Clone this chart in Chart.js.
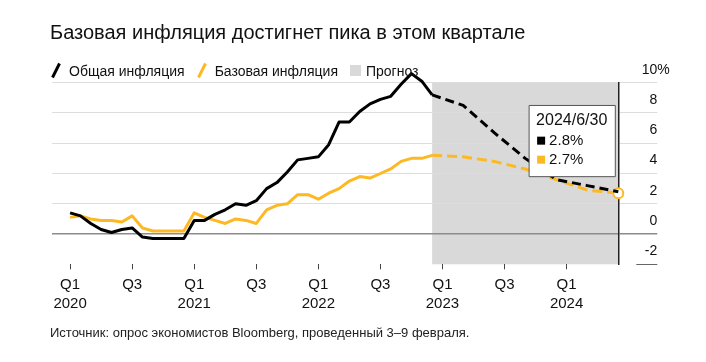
<!DOCTYPE html>
<html>
<head>
<meta charset="utf-8">
<script src="https://cdn.jsdelivr.net/npm/chart.js@4.4.1/dist/chart.umd.min.js"></script>
<style>
  body { margin: 0; background: #fff; font-family: "Liberation Sans", Arial, sans-serif; }
  #wrap { position: relative; width: 706px; height: 362px; overflow: hidden; }
  #chart { position: absolute; left: 0; top: 0; }
  .title { position: absolute; left: 50px; top: 21px; font-size: 20px; color: #111; white-space: nowrap; }
  .legend { position: absolute; left: 51px; top: 62px; font-size: 14px; color: #111; white-space: nowrap; display: flex; align-items: center; }
  .legend span.item { display: inline-flex; align-items: center; margin-right: 12px; }
  .legend svg { margin-right: 8px; }
  .legend .sq { width: 11px; height: 11px; background: #d9d9d9; display: inline-block; margin-right: 5px; }
  .source { position: absolute; left: 50px; top: 325px; font-size: 13px; color: #222; white-space: nowrap; }
</style>
</head>
<body>
<div id="wrap">
  <canvas id="chart" width="706" height="362"></canvas>
  <div class="title">Базовая инфляция достигнет пика в этом квартале</div>
  <div class="legend">
    <span class="item"><svg width="10" height="17"><line x1="1.5" y1="15.5" x2="8.5" y2="1.5" stroke="#000" stroke-width="3"/></svg>Общая инфляция</span>
    <span class="item"><svg width="10" height="17"><line x1="1.5" y1="15.5" x2="8.5" y2="1.5" stroke="#fdb924" stroke-width="3"/></svg>Базовая инфляция</span>
    <span class="item"><span class="sq"></span>Прогноз</span>
  </div>
  <div class="source">Источник: опрос экономистов Bloomberg, проведенный 3–9 февраля.</div>
</div>
<script>
// месяцы считаются от января 2020 (0 = 2020/1)
const actualMonths = [];
for (let i = 0; i < 36; i++) actualMonths.push(i);
const headlineActual = [1.4, 1.2, 0.7, 0.3, 0.1, 0.3, 0.4, -0.2, -0.3, -0.3, -0.3, -0.3,
                        0.9, 0.9, 1.3, 1.6, 2.0, 1.9, 2.2, 3.0, 3.4, 4.1, 4.9, 5.0,
                        5.1, 5.9, 7.4, 7.4, 8.1, 8.6, 8.9, 9.1, 9.9, 10.6, 10.1, 9.2];
const coreActual = [1.1, 1.2, 1.0, 0.9, 0.9, 0.8, 1.2, 0.4, 0.2, 0.2, 0.2, 0.2,
                    1.4, 1.1, 0.9, 0.7, 1.0, 0.9, 0.7, 1.6, 1.9, 2.0, 2.6, 2.6,
                    2.3, 2.7, 3.0, 3.5, 3.8, 3.7, 4.0, 4.3, 4.8, 5.0, 5.0, 5.2];

// квартальный прогноз
const forecastMonths = [38, 41, 44, 47, 50, 53];
const forecastDates = ['2023/3/31', '2023/6/30', '2023/9/30', '2023/12/31', '2024/3/31', '2024/6/30'];
const headlineForecast = [8.5, 6.7, 5.0, 3.6, 3.2, 2.8];
const coreForecast = [5.1, 4.8, 4.3, 3.6, 2.9, 2.7];

const forecastStart = 35;
const tickMonths = [0, 6, 12, 18, 24, 30, 36, 42, 48];
const tickLabels = [['Q1', '2020'], 'Q3', ['Q1', '2021'], 'Q3', ['Q1', '2022'], 'Q3', ['Q1', '2023'], 'Q3', ['Q1', '2024']];
const yTicks = [-2, 0, 2, 4, 6, 8, 10];

const BLACK = '#000000';
const YELLOW = '#fdb924';
const GRID = '#dddddd';

function toPoints(months, values) {
  return months.map((m, i) => ({ x: m, y: values[i] }));
}
const headlineData = toPoints(actualMonths, headlineActual).concat(toPoints(forecastMonths, headlineForecast));
const coreData = toPoints(actualMonths, coreActual).concat(toPoints(forecastMonths, coreForecast));
const last = headlineData.length - 1;

const dashAfter = (dash) => ({
  borderDash: ctx => ctx.p0DataIndex >= forecastStart ? dash : undefined
});

// серая зона прогноза + подпись "%" и короткая черта у -2
const forecastBox = {
  id: 'forecastBox',
  beforeDraw(chart) {
    const { ctx, chartArea, scales } = chart;
    const x0 = scales.x.getPixelForValue(forecastStart);
    ctx.save();
    ctx.fillStyle = '#d9d9d9';
    ctx.fillRect(x0, chartArea.top, chartArea.right - x0, chartArea.bottom - chartArea.top);
    ctx.restore();
  },
  afterDraw(chart) {
    const { ctx, chartArea } = chart;
    const y = chart.scales.y;
    const o = y.options;
    ctx.save();
    ctx.font = '14px "Liberation Sans", Arial, sans-serif';
    ctx.fillStyle = '#111';
    ctx.textBaseline = 'middle';
    ctx.fillText('%', y.right, y.getPixelForValue(10) + o.ticks.labelOffset);
    const ym = Math.round(y.getPixelForValue(-2)) + 0.5;
    ctx.strokeStyle = '#666';
    ctx.lineWidth = 1;
    ctx.beginPath();
    ctx.moveTo(chartArea.right + 18, ym);
    ctx.lineTo(chartArea.right + o.grid.tickLength, ym);
    ctx.stroke();
    ctx.restore();
  }
};

Chart.Tooltip.positioners.lastPoint = function (items) {
  if (!items.length) return false;
  const ys = items.map(it => it.element.y);
  return { x: items[0].element.x - 3, y: Math.min(...ys) - 15 };
};

const chart = new Chart(document.getElementById('chart'), {
  type: 'line',
  data: {
    datasets: [
      {
        label: 'Общая инфляция',
        data: headlineData,
        borderColor: BLACK,
        backgroundColor: BLACK,
        borderWidth: 3,
        pointRadius: 0,
        pointHoverRadius: 0,
        segment: dashAfter([9, 5]),
        clip: false
      },
      {
        label: 'Базовая инфляция',
        data: coreData,
        borderColor: YELLOW,
        backgroundColor: YELLOW,
        borderWidth: 3,
        pointRadius: ctx => ctx.dataIndex === last ? 5 : 0,
        pointHoverRadius: ctx => ctx.dataIndex === last ? 5 : 0,
        pointBackgroundColor: '#ffffff',
        pointBorderColor: YELLOW,
        pointBorderWidth: 2,
        pointHoverBorderWidth: 2,
        segment: dashAfter([10, 5]),
        clip: false
      }
    ]
  },
  options: {
    responsive: false,
    animation: false,
    events: [],
    devicePixelRatio: 1,
    layout: { padding: { left: 52, top: 82.7, right: 48.7, bottom: 0 } },
    elements: { line: { borderJoinStyle: 'round', tension: 0 } },
    scales: {
      x: {
        type: 'linear',
        min: -1.75,
        max: 53,
        afterFit: s => { s.height = 97.7; },
        afterBuildTicks: s => { s.ticks = tickMonths.map(v => ({ value: v })); },
        grid: { drawOnChartArea: false, drawTicks: true, tickLength: 5, tickColor: '#444', tickWidth: 1 },
        border: { display: false },
        ticks: {
          autoSkip: false,
          maxRotation: 0,
          padding: 6.2,
          color: '#111',
          font: { family: '"Liberation Sans", Arial, sans-serif', size: 15, lineHeight: '19px' },
          callback: v => tickLabels[tickMonths.indexOf(v)]
        }
      },
      y: {
        position: 'right',
        min: -2,
        max: 10,
        afterFit: s => { s.width = 39; },
        afterBuildTicks: s => { s.ticks = yTicks.map(v => ({ value: v })); },
        grid: {
          drawTicks: true,
          tickLength: 39,
          color: c => c.tick.value === 0 ? '#8c8c8c' : (c.tick.value === -2 ? 'rgba(0,0,0,0)' : GRID),
          tickColor: c => c.tick.value === 0 ? '#8c8c8c' : (c.tick.value === -2 ? 'rgba(0,0,0,0)' : GRID),
          lineWidth: c => c.tick.value === 0 ? 1.5 : 1,
          tickWidth: c => c.tick.value === 0 ? 1.5 : 1
        },
        border: { display: true, color: '#222', width: 1.5 },
        ticks: {
          crossAlign: 'far',
          padding: 0,
          labelOffset: -13,
          color: '#111',
          font: { family: '"Liberation Sans", Arial, sans-serif', size: 14 },
          callback: v => String(v)
        }
      }
    },
    plugins: {
      legend: { display: false },
      title: { display: false },
      tooltip: {
        enabled: true,
        position: 'lastPoint',
        xAlign: 'right',
        yAlign: 'bottom',
        backgroundColor: '#ffffff',
        borderColor: '#555555',
        borderWidth: 1,
        cornerRadius: 0,
        caretSize: 0,
        caretPadding: 0,
        titleColor: '#111',
        bodyColor: '#111',
        titleFont: { family: '"Liberation Sans", Arial, sans-serif', size: 16, weight: 'normal' },
        bodyFont: { family: '"Liberation Sans", Arial, sans-serif', size: 15 },
        padding: { top: 6, bottom: 8, left: 7, right: 8 },
        titleMarginBottom: 1,
        bodySpacing: 1,
        boxWidth: 10,
        boxHeight: 10,
        boxPadding: 1,
        multiKeyBackground: '#ffffff',
        displayColors: true,
        callbacks: {
          title: items => forecastDates[forecastMonths.indexOf(items[0].parsed.x)],
          label: item => item.parsed.y.toFixed(1) + '%',
          labelColor: item => ({
            borderColor: 'rgba(0,0,0,0)',
            backgroundColor: item.dataset.borderColor,
            borderWidth: 0.01
          })
        }
      }
    }
  },
  plugins: [forecastBox]
});

chart.tooltip.setActiveElements([
  { datasetIndex: 0, index: last },
  { datasetIndex: 1, index: last }
], { x: 0, y: 0 });
chart.update();
</script>
</body>
</html>
